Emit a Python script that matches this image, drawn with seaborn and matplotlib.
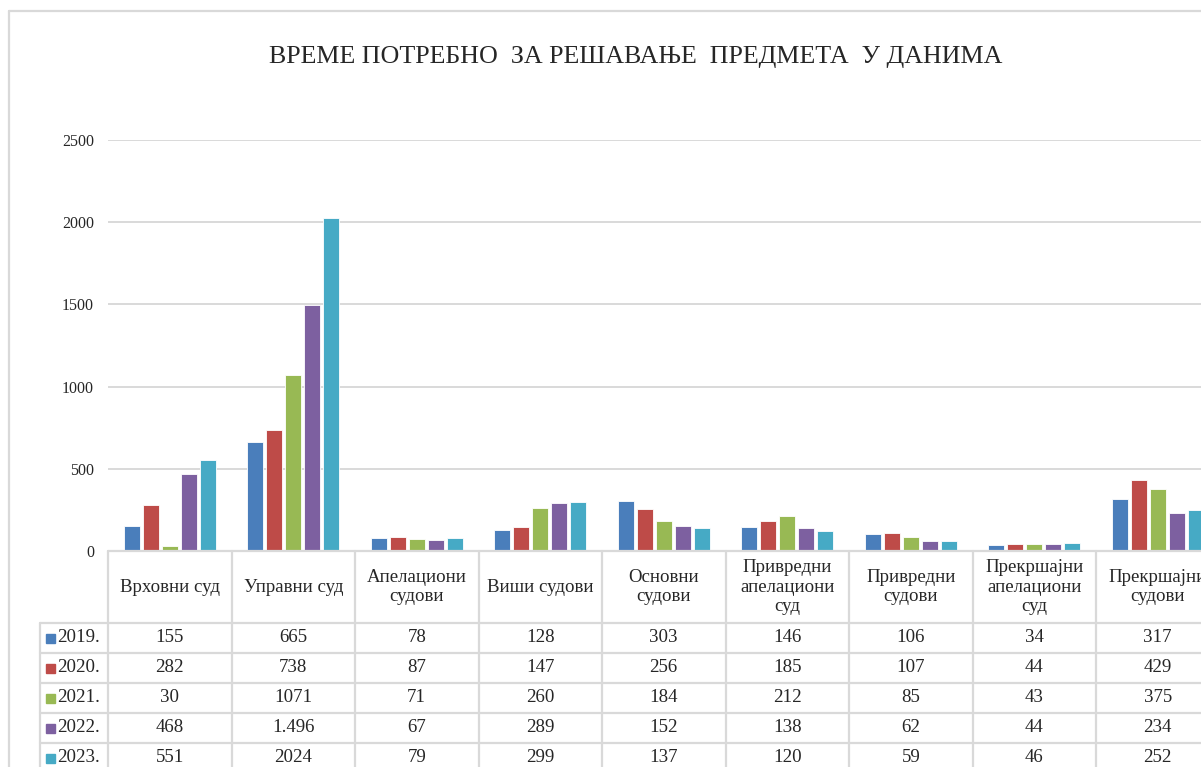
import pandas as pd
import seaborn as sns
import matplotlib.pyplot as plt
from matplotlib.lines import Line2D
from matplotlib.patches import Rectangle

# data (days needed to resolve cases)
courts = ["Врховни суд", "Управни суд", "Апелациони\nсудови", "Виши судови", "Основни\nсудови",
          "Привредни\nапелациони\nсуд", "Привредни\nсудови", "Прекршајни\nапелациони\nсуд",
          "Прекршајни\nсудови"]
years = ["2019.", "2020.", "2021.", "2022.", "2023."]
days_2019 = [155, 665, 78, 128, 303, 146, 106, 34, 317]
days_2020 = [282, 738, 87, 147, 256, 185, 107, 44, 429]
days_2021 = [30, 1071, 71, 260, 184, 212, 85, 43, 375]
days_2022 = [468, 1496, 67, 289, 152, 138, 62, 44, 234]
days_2023 = [551, 2024, 79, 299, 137, 120, 59, 46, 252]
# the source table writes one value with a thousands dot
label_override = {("2022.", 1): "1.496"}
colors = ["#4A7EBB", "#BE4B48", "#98B954", "#7D60A0", "#46AAC5"]

series = [days_2019, days_2020, days_2021, days_2022, days_2023]
df = pd.DataFrame([{"court": c, "year": y, "days": v}
                   for y, vals in zip(years, series) for c, v in zip(courts, vals)])

W, H = 1201, 767
GRID = "#D9D9D9"
TXT = "#262626"
serif = ["Liberation Serif", "DejaVu Serif"]

sns.set_style("white")
plt.rcParams["font.family"] = serif

fig = plt.figure(figsize=(W / 100, H / 100), dpi=100)

# plot area runs a bit past the right edge, like the cropped original
cat_px = 123.5
left_px, zero_px, top_px = 108, 551, 140
right_px = left_px + cat_px * len(courts)
ax = fig.add_axes([left_px / W, (H - zero_px) / H, (right_px - left_px) / W, (zero_px - top_px) / H])

sns.barplot(data=df, x="court", y="days", hue="year", order=courts, hue_order=years,
            palette=colors, saturation=1, width=0.77, gap=0.17, edgecolor="white", linewidth=0.6,
            errorbar=None, legend=False, ax=ax)

ax.set_xlim(-0.5, len(courts) - 0.5)
ax.set_ylim(0, 2500)
ax.set_yticks(range(0, 2501, 500))
ax.set_xticks([])
ax.set_xlabel("")
ax.set_ylabel("")
ax.yaxis.grid(True, color=GRID, linewidth=1.4)
ax.set_axisbelow(True)
ax.tick_params(axis="y", length=0, pad=10, labelsize=11.5, labelcolor=TXT)
for s in ax.spines.values():
    s.set_visible(False)

# data table under the bars
row_h, head_h = 30, 72
tab_h = head_h + row_h * len(years) + 10
leg_px = left_px - 40
ax_t = fig.add_axes([40 / W, (H - zero_px - tab_h) / H, (right_px - 40) / W, tab_h / H])
x0 = -0.5 - leg_px / cat_px
ax_t.set_xlim(x0, len(courts) - 0.5)
ax_t.set_ylim(tab_h, 0)
ax_t.axis("off")

lw = 1.6
ax_t.plot([-0.5, len(courts) - 0.5], [0, 0], color=GRID, lw=lw, clip_on=False)
for i in range(len(years) + 1):
    yy = head_h + i * row_h
    ax_t.plot([x0, len(courts) - 0.5], [yy, yy], color=GRID, lw=lw, clip_on=False)
for j in range(len(courts) + 1):
    ax_t.plot([j - 0.5, j - 0.5], [0, tab_h], color=GRID, lw=lw, clip_on=False)
ax_t.plot([x0, x0], [head_h, tab_h], color=GRID, lw=lw, clip_on=False)

fs = 13.6
for j, c in enumerate(courts):
    ax_t.text(j, head_h / 2, c, ha="center", va="center", fontsize=fs, color=TXT,
              linespacing=1.17)

for i, (y, vals, col) in enumerate(zip(years, series, colors)):
    yc = head_h + i * row_h + row_h / 2
    sq = 9
    ax_t.add_patch(Rectangle((x0 + 6 / cat_px, yc - sq / 2), sq / cat_px, sq, color=col))
    ax_t.text(x0 + 17 / cat_px, yc, y, ha="left", va="center", fontsize=fs, color=TXT)
    for j, v in enumerate(vals):
        ax_t.text(j, yc, label_override.get((y, j), str(v)), ha="center", va="center",
                  fontsize=fs, color=TXT)

# chart frame (only left and top edges are inside the crop)
fig.add_artist(Line2D([9 / W, 9 / W], [0, 1 - 11 / H], transform=fig.transFigure, color=GRID, lw=1.6))
fig.add_artist(Line2D([9 / W, 1], [1 - 11 / H, 1 - 11 / H], transform=fig.transFigure, color=GRID, lw=1.6))

fig.text(636 / W, 1 - 57 / H, "ВРЕМЕ ПОТРЕБНО  ЗА РЕШАВАЊЕ  ПРЕДМЕТА  У ДАНИМА",
         ha="center", va="center", fontsize=18.7, color=TXT)

fig.savefig("out.png", dpi=100)
